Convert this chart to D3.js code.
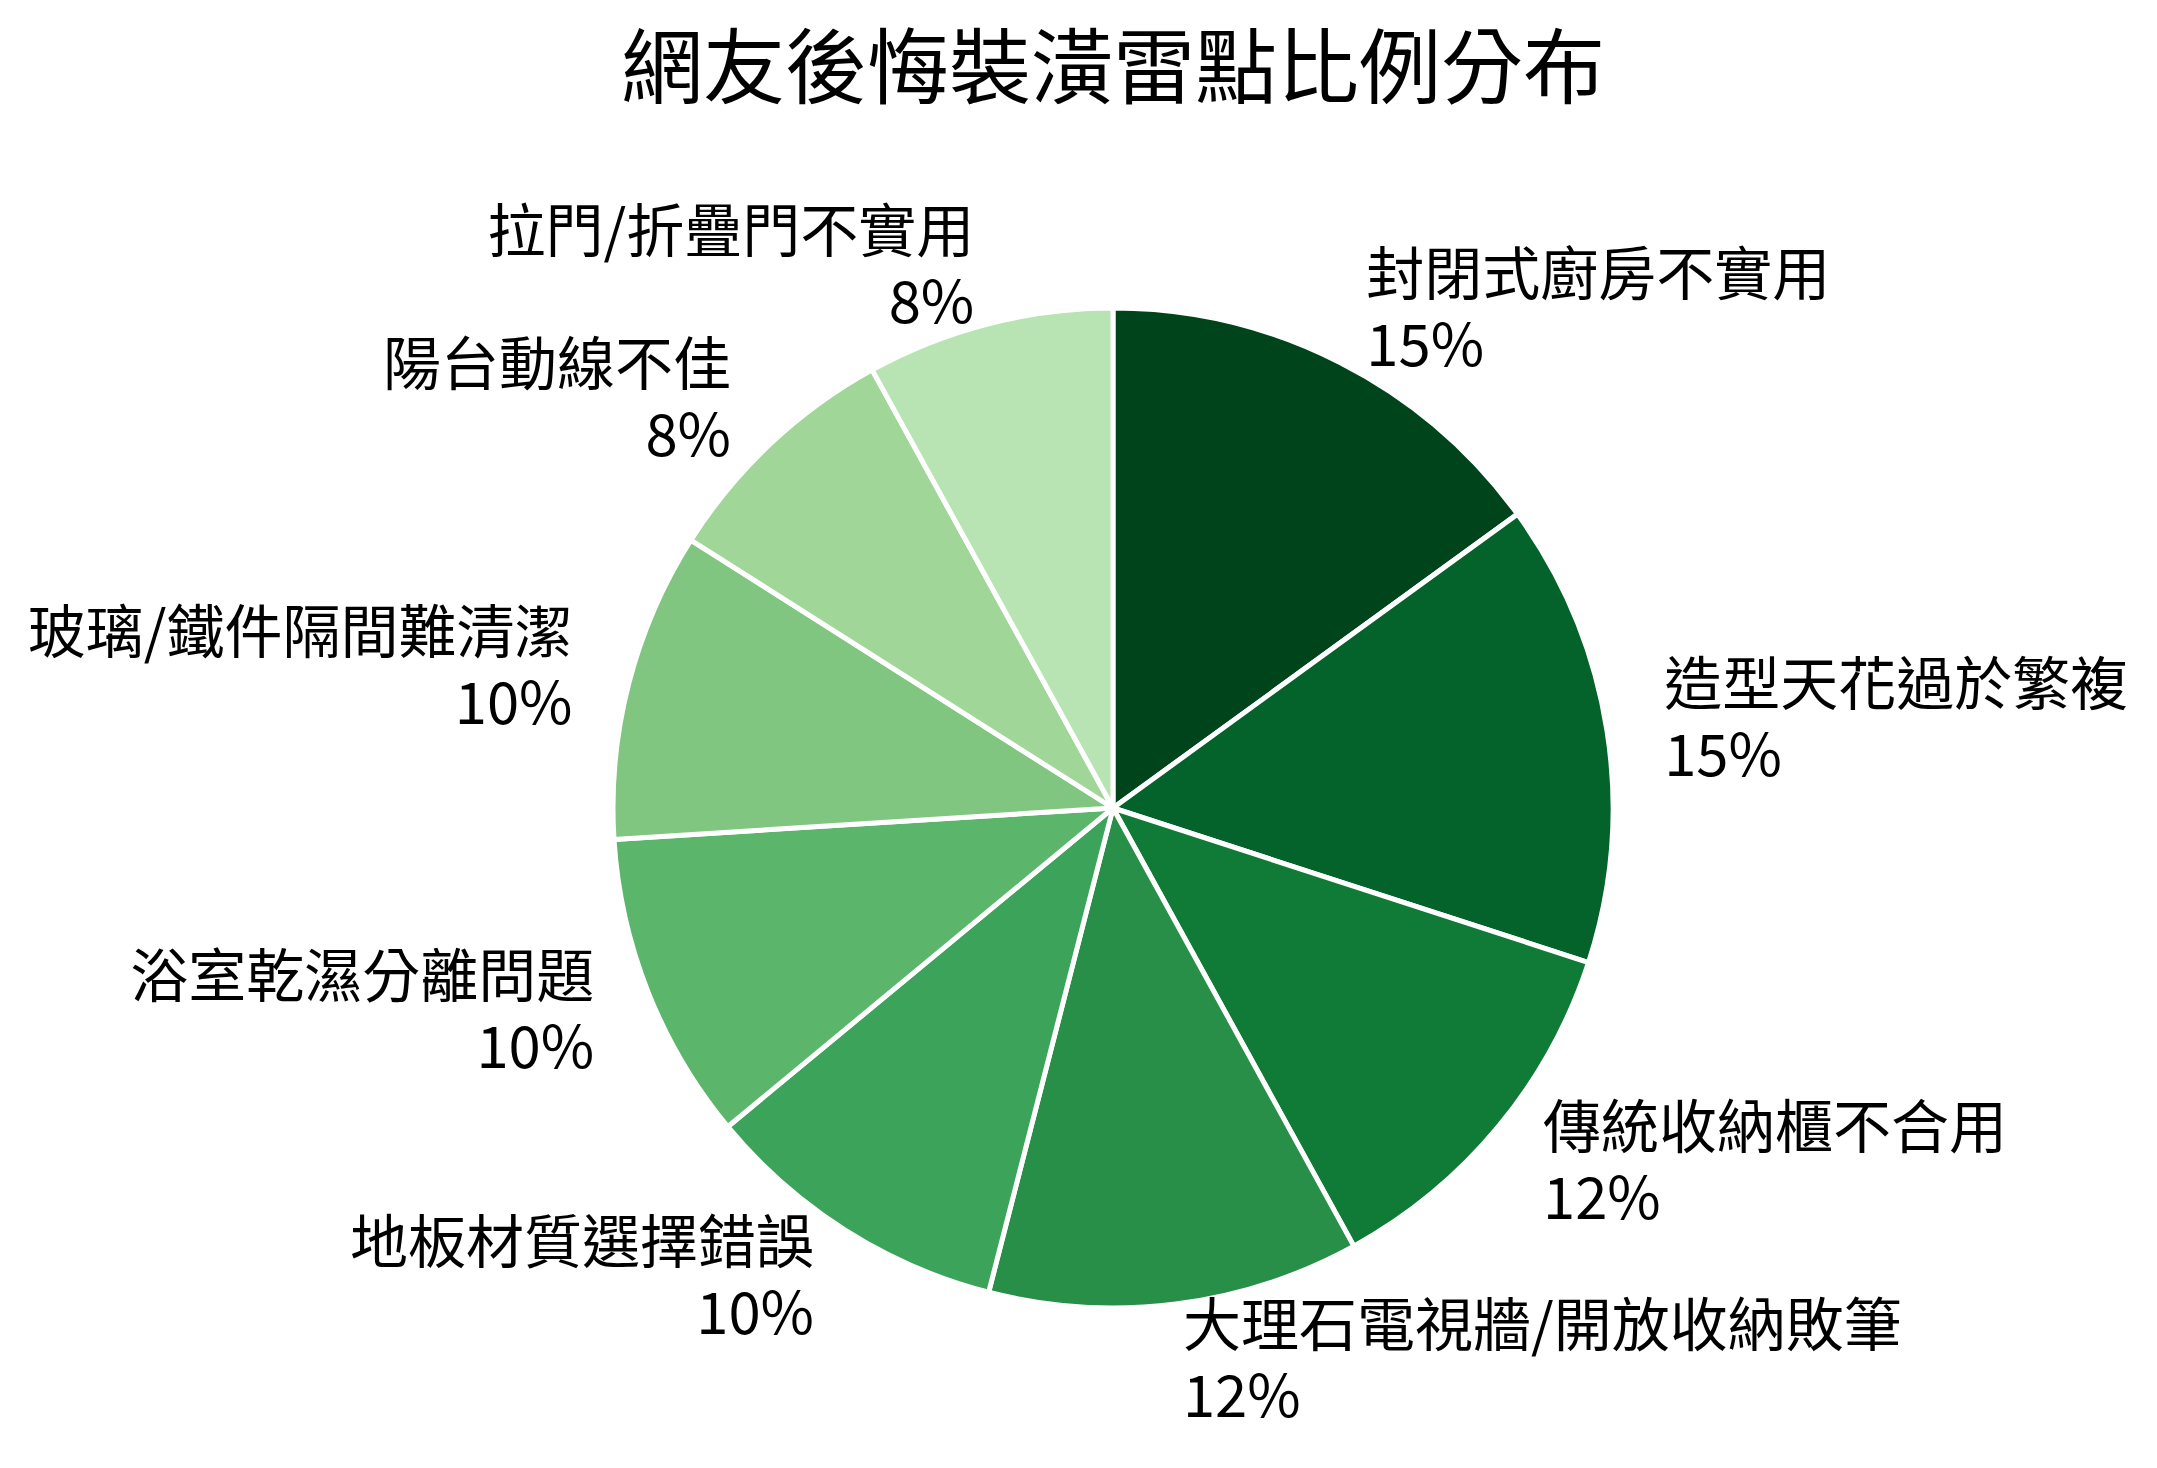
<!DOCTYPE html>
<meta charset="utf-8">
<style>
  html, body { margin: 0; padding: 0; background: #fff; }
  #pie-chart text { font-family: "Noto Sans CJK TC", "Noto Sans", sans-serif; fill: #000; }
</style>
<div id="pie-chart"></div>
<script src="https://d3js.org/d3.v7.min.js"></script>
<script>
// data, clockwise from 12 o'clock
var categories = [
  "封閉式廚房不實用",
  "造型天花過於繁複",
  "傳統收納櫃不合用",
  "大理石電視牆/開放收納敗筆",
  "地板材質選擇錯誤",
  "浴室乾濕分離問題",
  "玻璃/鐵件隔間難清潔",
  "陽台動線不佳",
  "拉門/折疊門不實用"
];
var values = [15, 15, 12, 12, 10, 10, 10, 8, 8];
var title = "網友後悔裝潢雷點比例分布";

var colors = ["#00441b", "#03632a", "#107a37", "#288f48", "#3ca45a",
              "#5bb66c", "#81c680", "#a0d697", "#b8e3b2"];

// dimensions
var width = 2157,
    height = 1468,
    cx = 1113,
    cy = 808,
    radius = 500,
    labelRadius = 558;

var svg = d3.select("#pie-chart")
  .append("svg")
  .attr("width", width)
  .attr("height", height);

svg.append("text")
  .attr("x", cx)
  .attr("y", 97)
  .attr("text-anchor", "middle")
  .attr("font-size", "82px")
  .text(title);

var color = d3.scaleOrdinal()
  .domain(categories)
  .range(colors);

var pie = d3.pie()
  .sort(null)
  .value(function(d, i) { return values[i]; });

var arcs = pie(categories);

var arc = d3.arc()
  .innerRadius(0)
  .outerRadius(radius);

var g = svg.append("g")
  .attr("transform", "translate(" + cx + "," + cy + ")");

g.selectAll("path")
  .data(arcs)
  .enter().append("path")
    .attr("d", arc)
    .attr("fill", function(d) { return color(d.data); })
    .attr("stroke", "#fff")
    .attr("stroke-width", 5)
    .attr("stroke-linejoin", "round");

// label anchor point outside the slice
function labelPos(d) {
  var mid = (d.startAngle + d.endAngle) / 2;
  return [labelRadius * Math.sin(mid), -labelRadius * Math.cos(mid)];
}
function anchor(d) {
  return (d.startAngle + d.endAngle) / 2 < Math.PI ? "start" : "end";
}

// name on first line
g.selectAll("text.name")
  .data(arcs)
  .enter().append("text")
    .attr("class", "name")
    .attr("font-size", "58px")
    .attr("text-anchor", anchor)
    .attr("x", function(d) { return labelPos(d)[0]; })
    .attr("y", function(d) { return labelPos(d)[1] - 16; })
    .text(function(d) { return d.data; });

// percent below
g.selectAll("text.pct")
  .data(arcs)
  .enter().append("text")
    .attr("class", "pct")
    .attr("font-size", "58px")
    .attr("text-anchor", anchor)
    .attr("x", function(d) { return labelPos(d)[0]; })
    .attr("y", function(d) { return labelPos(d)[1] + 55; })
    .text(function(d) { return d.value + "%"; });
</script>
